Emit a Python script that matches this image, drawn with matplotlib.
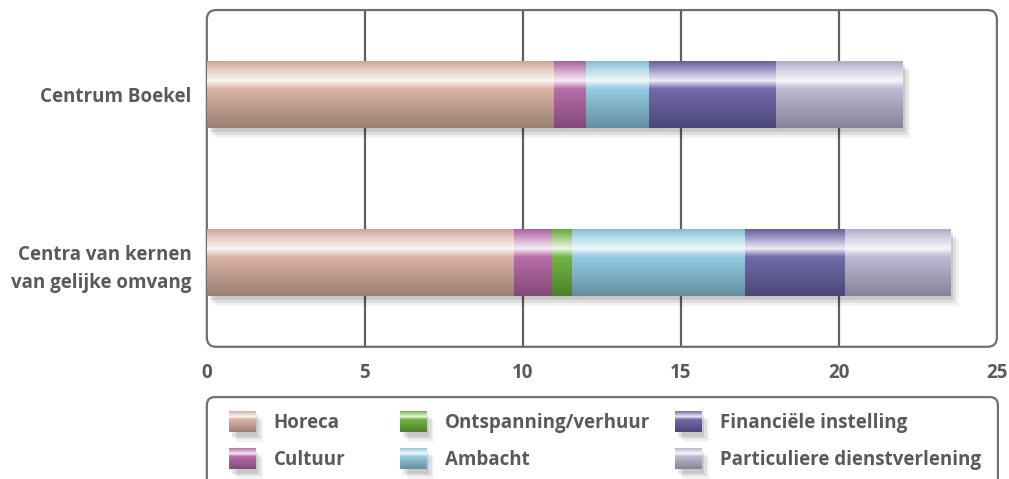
import numpy as np
import matplotlib
matplotlib.use('Agg')
import matplotlib.pyplot as plt
import matplotlib.patheffects as pe
from matplotlib.patches import FancyBboxPatch
from matplotlib.colors import to_rgb

plt.rcParams['font.family'] = ['Open Sans', 'DejaVu Sans']
plt.rcParams['font.weight'] = 'bold'

# data
centra = ['Centrum Boekel', 'Centra van kernen\nvan gelijke omvang']
categories = ['Horeca', 'Cultuur', 'Ontspanning/verhuur', 'Ambacht',
              'Financiële instelling', 'Particuliere dienstverlening']
horeca = [11.0, 9.73]
cultuur = [1.0, 1.2]
ontspanning = [0.0, 0.63]
ambacht = [2.0, 5.47]
financieel = [4.0, 3.15]
particulier = [4.0, 3.35]
series = [horeca, cultuur, ontspanning, ambacht, financieel, particulier]
colors = ['#d8b0a0', '#b566a6', '#6cb23a', '#8ec8df', '#6a63a6', '#bcb6d2']
xticks = [0, 5, 10, 15, 20, 25]

grey = '#5a5a5a'


def gradient(color, n=64):
    base = np.array(to_rgb(color))
    white = np.ones(3)
    stops = [(0.0, base * 0.92),
             (0.12, base * 0.7 + white * 0.3),
             (0.30, base * 0.12 + white * 0.88),
             (0.42, base * 0.95 + white * 0.05),
             (1.0, base * 0.72)]
    t = np.linspace(0, 1, n)
    img = np.zeros((n, 1, 3))
    for c in range(3):
        img[:, 0, c] = np.interp(t, [s[0] for s in stops], [s[1][c] for s in stops])
    return np.clip(img, 0, 1)


fig = plt.figure(figsize=(10.09, 4.79), dpi=100)
ax = fig.add_axes([0.205, 0.276, 0.783, 0.703])

y = np.arange(len(centra))
left = np.zeros(len(centra))
shadow = [pe.SimplePatchShadow(offset=(2, -3), shadow_rgbFace='k', alpha=0.10),
          pe.SimplePatchShadow(offset=(4, -5), shadow_rgbFace='k', alpha=0.08),
          pe.SimplePatchShadow(offset=(6, -7), shadow_rgbFace='k', alpha=0.05),
          pe.Normal()]
bars = []
for vals, col, name in zip(series, colors, categories):
    b = ax.barh(y, vals, left=left, height=0.40, color=col, label=name,
                zorder=3, path_effects=shadow)
    bars.append((b, col))
    left = left + np.array(vals)

for b, col in bars:
    for p in b.patches:
        if p.get_width() <= 0:
            continue
        x0, y0, w, h = p.get_x(), p.get_y(), p.get_width(), p.get_height()
        im = ax.imshow(gradient(col), extent=(x0, x0 + w, y0 + h, y0),
                       aspect='auto', zorder=4, interpolation='bilinear')
        im.set_clip_path(p)

ax.set_xlim(0, 25)
ax.set_ylim(1.5, -0.5)
ax.set_xticks(xticks)
ax.set_xticklabels([str(v) for v in xticks])
ax.set_yticks(y)
ax.set_yticklabels(centra, linespacing=1.55)
ax.tick_params(length=0, labelsize=13.5, labelcolor=grey)
ax.tick_params(axis='x', pad=12)
ax.tick_params(axis='y', pad=11)
for s in ax.spines.values():
    s.set_visible(False)
for v in xticks[1:-1]:
    ax.axvline(v, color='#606060', lw=1.6, zorder=1)

frame = FancyBboxPatch((0, 0), 1, 1, boxstyle='round,pad=0,rounding_size=0.012',
                       transform=ax.transAxes, fill=False, ec='#707070', lw=1.6,
                       zorder=2, clip_on=False, mutation_aspect=2.3)
ax.add_patch(frame)

# legend box, cut off by bottom edge
lbox = FancyBboxPatch((0.205, -0.1), 0.784, 0.271,
                      boxstyle='round,pad=0,rounding_size=0.008',
                      transform=fig.transFigure, fill=False, ec='#707070', lw=1.6,
                      mutation_aspect=2.1)
fig.patches.append(lbox)

# three legend columns, two entries each
handles, labels = ax.get_legend_handles_labels()
col_x = [0.227, 0.3964, 0.669]
legends = []
for i, cx in enumerate(col_x):
    leg = fig.legend(handles[2 * i:2 * i + 2], labels[2 * i:2 * i + 2],
                     loc='upper left', bbox_to_anchor=(cx, 0.1426), frameon=False,
                     prop={'family': ['Open Sans', 'DejaVu Sans'], 'weight': 'bold', 'size': 13.5},
                     labelcolor=grey, handlelength=1.39, handleheight=1.4,
                     handletextpad=1.0, labelspacing=0.8,
                     borderaxespad=0, borderpad=0)
    legends.append(leg)

# gradient swatches on top of legend handles
fig.canvas.draw()
inv = fig.transFigure.inverted()
swatches = [h for leg in legends for h in leg.legend_handles]
for h, col in zip(swatches, colors):
    bb = h.get_window_extent(fig.canvas.get_renderer())
    (fx0, fy0), (fx1, fy1) = inv.transform([[bb.x0, bb.y0], [bb.x1, bb.y1]])
    sax = fig.add_axes([fx0, fy0, fx1 - fx0, fy1 - fy0], zorder=10)
    sax.imshow(gradient(col), aspect='auto', interpolation='bilinear')
    sax.axis('off')

fig.savefig('out.png', dpi=100)
